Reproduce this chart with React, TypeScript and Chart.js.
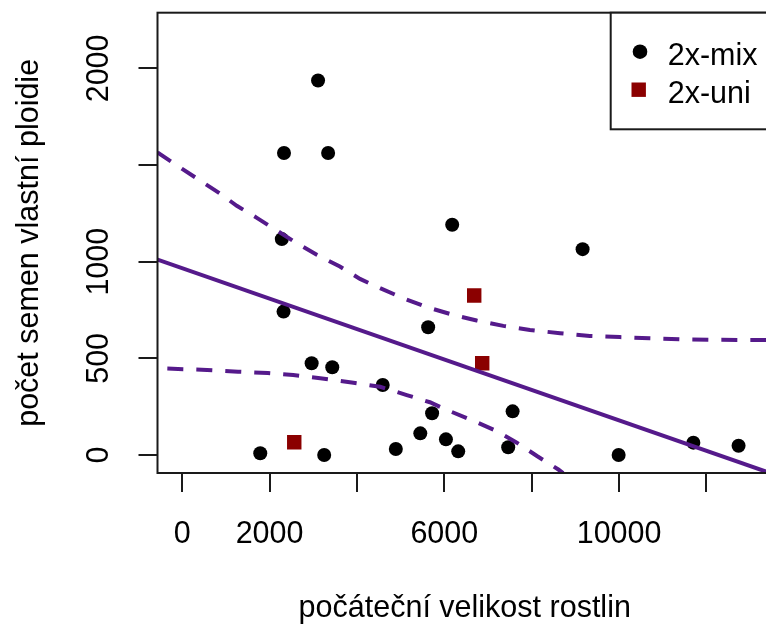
import { useEffect, useRef } from "react";
import { Chart, registerables } from "chart.js";

Chart.register(...registerables);

// 2x-mix plants: initial size vs. seeds of own ploidy
const mixX = [3110, 2330, 3340, 2280, 2320, 5630, 2963, 3435, 4590, 5720, 5450, 4890, 1787, 3250, 6180, 9165, 7563, 6037, 6318, 7462, 9990, 11700, 12735];
const mixY = [1937, 1562, 1562, 1117, 742, 661, 475, 454, 362, 216, 112, 31, 9, 0, 1191, 1065, 226, 81, 19, 40, 0, 64, 48];

// 2x-uni plants
const uniX = [2565, 6684, 6867];
const uniY = [66, 825, 475];

// fitted line and its confidence band
const fitIntercept = 966;
const fitSlope = -0.0787;
const upperX = [-565, 0, 870, 1250, 1700, 2160, 2620, 3080, 3610, 4070, 4530, 5060, 5600, 6200, 6740, 7350, 7960, 8650, 9330, 10020, 10700, 11390, 12150, 12880, 13500];
const upperY = [1565, 1480, 1352, 1289, 1228, 1162, 1096, 1036, 975, 911, 863, 811, 765, 725, 696, 668, 647, 630, 616, 610, 604, 599, 596, 595, 595];
const lowerX = [-340, 570, 1280, 1960, 2540, 3160, 3920, 4530, 5140, 5670, 6060, 6670, 7200, 7660, 8120, 8610, 8720];
const lowerY = [447, 440, 431, 424, 414, 397, 374, 353, 310, 273, 233, 177, 124, 64, -5, -75, -93];

// axes
const xMin = -565;
const xMax = 13500;
const yMin = -93;
const yMax = 2288;
const xTicks = [0, 2000, 4000, 6000, 8000, 10000, 12000];
const xTickLabels = ["0", "2000", "", "6000", "", "10000", ""];
const yTicks = [0, 500, 1000, 1500, 2000];
const yTickLabels = ["0", "500", "1000", "", "2000"];
const xTitle = "počáteční velikost rostlin";
const yTitle = "počet semen vlastní ploidie";
const legendLabels = ["2x-mix", "2x-uni"];

const PURPLE = "#551A8B";
const DARKRED = "#8B0000";
const FONT = "'Liberation Sans', Arial, sans-serif";
const FONT_SIZE = 30.5;

const pts = (xs: number[], ys: number[]) => xs.map((x, i) => ({ x, y: ys[i] }));

const framePlugin = {
  id: "frame",
  afterDatasetsDraw(chart: any) {
    const { ctx, chartArea: a, scales } = chart;
    const xs = scales.x;
    const ys = scales.y;
    ctx.save();
    ctx.strokeStyle = "#1a1a1a";
    ctx.lineWidth = 2;
    ctx.strokeRect(a.left, a.top, a.right - a.left, a.bottom - a.top);

    ctx.beginPath();
    xTicks.forEach((v) => {
      const p = Math.round(xs.getPixelForValue(v));
      ctx.moveTo(p, a.bottom);
      ctx.lineTo(p, a.bottom + 19);
    });
    yTicks.forEach((v) => {
      const p = Math.round(ys.getPixelForValue(v));
      ctx.moveTo(a.left, p);
      ctx.lineTo(a.left - 19, p);
    });
    ctx.stroke();

    ctx.fillStyle = "#000";
    ctx.font = `${FONT_SIZE}px ${FONT}`;
    ctx.textAlign = "center";
    ctx.textBaseline = "alphabetic";
    xTicks.forEach((v, i) => {
      if (xTickLabels[i]) ctx.fillText(xTickLabels[i], xs.getPixelForValue(v), a.bottom + 70);
    });
    ctx.fillText(xTitle, (a.left + a.right) / 2, a.bottom + 144);

    yTicks.forEach((v, i) => {
      if (!yTickLabels[i]) return;
      ctx.save();
      ctx.translate(a.left - 49.5, ys.getPixelForValue(v));
      ctx.rotate(-Math.PI / 2);
      ctx.fillText(yTickLabels[i], 0, 0);
      ctx.restore();
    });
    ctx.save();
    ctx.translate(a.left - 119.5, (a.top + a.bottom) / 2);
    ctx.rotate(-Math.PI / 2);
    ctx.fillText(yTitle, 0, 0);
    ctx.restore();

    // legend box in the top-right corner
    const lx = a.right - 161.3;
    const ly = a.top;
    ctx.fillStyle = "#fff";
    ctx.fillRect(lx, ly, a.right - lx, 116.6);
    ctx.strokeRect(lx, ly, a.right - lx, 116.6);
    ctx.fillStyle = "#000";
    ctx.beginPath();
    ctx.arc(lx + 29.3, ly + 39, 7.3, 0, Math.PI * 2);
    ctx.fill();
    ctx.fillStyle = DARKRED;
    ctx.fillRect(lx + 28 - 7.2, ly + 77 - 7.2, 14.4, 14.4);
    ctx.fillStyle = "#000";
    ctx.textAlign = "left";
    ctx.fillText(legendLabels[0], lx + 57, ly + 52.3);
    ctx.fillText(legendLabels[1], lx + 57, ly + 90.6);
    ctx.restore();
  },
};

export default function App() {
  const ref = useRef<HTMLCanvasElement | null>(null);

  useEffect(() => {
    if (!ref.current) return;
    const lineBase = {
      showLine: true,
      pointRadius: 0,
      borderColor: PURPLE,
      borderWidth: 4,
      fill: false,
      tension: 0,
    };
    const chart = new Chart(ref.current, {
      type: "scatter",
      data: {
        datasets: [
          {
            ...lineBase,
            data: [
              { x: xMin, y: fitIntercept + fitSlope * xMin },
              { x: xMax, y: fitIntercept + fitSlope * xMax },
            ],
          },
          { ...lineBase, borderDash: [16, 13], data: pts(upperX, upperY) },
          { ...lineBase, borderDash: [16, 13], data: pts(lowerX, lowerY) },
          {
            data: pts(mixX, mixY),
            pointStyle: "circle",
            pointRadius: 7,
            backgroundColor: "#000",
            borderWidth: 0,
          },
          {
            data: pts(uniX, uniY),
            pointStyle: "rect",
            pointRadius: 10.2,
            backgroundColor: DARKRED,
            borderWidth: 0,
          },
        ] as any,
      },
      options: {
        responsive: false,
        animation: false,
        devicePixelRatio: 1,
        events: [],
        layout: { padding: { left: 157.5, top: 12.7, right: 28, bottom: 152 } },
        scales: {
          x: { type: "linear", min: xMin, max: xMax, display: false },
          y: { type: "linear", min: yMin, max: yMax, display: false },
        },
        plugins: { legend: { display: false }, tooltip: { enabled: false } },
      },
      plugins: [framePlugin],
    });
    return () => chart.destroy();
  }, []);

  return (
    <div
      style={{
        position: "absolute",
        left: 0,
        top: 0,
        width: 766,
        height: 625,
        overflow: "hidden",
        background: "#fff",
      }}
    >
      <canvas ref={ref} width={800} height={625} style={{ display: "block", width: 800, height: 625 }} />
    </div>
  );
}
